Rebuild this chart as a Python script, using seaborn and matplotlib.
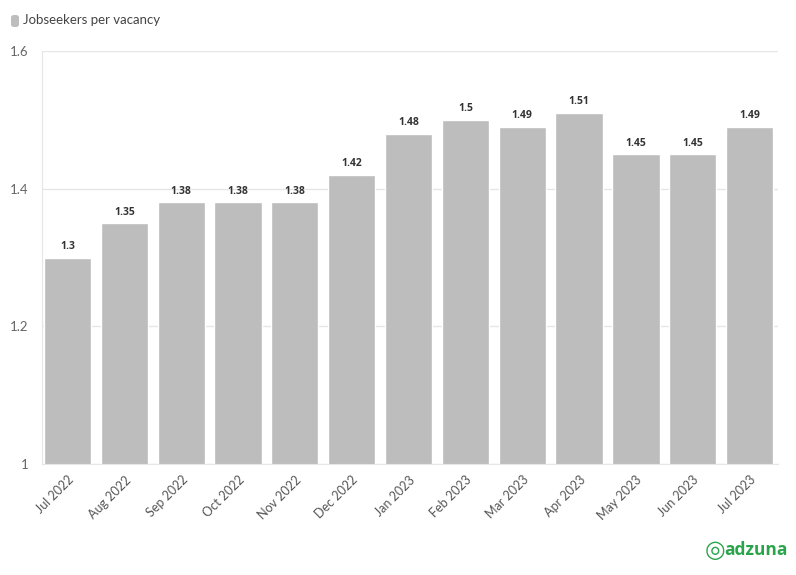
import matplotlib
matplotlib.use('Agg')
import matplotlib.pyplot as plt
import seaborn as sns
import pandas as pd
from matplotlib.patches import FancyBboxPatch

# data
months = ['Jul 2022', 'Aug 2022', 'Sep 2022', 'Oct 2022', 'Nov 2022', 'Dec 2022',
          'Jan 2023', 'Feb 2023', 'Mar 2023', 'Apr 2023', 'May 2023', 'Jun 2023', 'Jul 2023']
ratio = [1.3, 1.35, 1.38, 1.38, 1.38, 1.42, 1.48, 1.5, 1.49, 1.51, 1.45, 1.45, 1.49]
series_name = 'Jobseekers per vacancy'
y_ticks = [1.0, 1.2, 1.4, 1.6]
y_labels = ['1', '1.2', '1.4', '1.6']

df = pd.DataFrame({'month': months, 'ratio': ratio})

sns.set_style('white')
plt.rcParams['font.family'] = ['Lato', 'DejaVu Sans']

fig = plt.figure(figsize=(7.96, 5.75), dpi=100)
ax = fig.add_axes([42 / 796, 0.193, 736 / 796, 0.7183])

bar_col = '#bdbdbd'
sns.barplot(data=df, x='month', y='ratio', color=bar_col, saturation=1,
            width=0.83, ax=ax)

ax.set_ylim(1.0, 1.6)
ax.set_xlim(-0.45, len(months) - 0.5)
ax.set_yticks(y_ticks)
ax.set_yticklabels(y_labels)
ax.set_xlabel('')
ax.set_ylabel('')

for i, v in enumerate(ratio):
    ax.text(i, v + 0.008, f'{v:g}', ha='center', va='bottom',
            fontsize=7.5, fontweight='bold', color='#333333',
            family=['Open Sans', 'DejaVu Sans'])

ax.grid(axis='y', color='#e6e6e6', linewidth=1)
ax.set_axisbelow(True)
for s in ['top', 'right']:
    ax.spines[s].set_visible(False)
ax.spines['left'].set_color('#e6e6e6')
ax.spines['bottom'].set_color('#e6e6e6')
ax.tick_params(axis='y', length=6, color='#e6e6e6', labelsize=9.5, labelcolor='#666666', pad=4)
ax.tick_params(axis='x', length=5, color='#e6e6e6', labelsize=9, labelcolor='#555555', pad=2)
plt.setp(ax.get_xticklabels(), rotation=45, ha='right', rotation_mode='anchor')

# legend at top left
fig.patches.append(FancyBboxPatch((11 / 796, 1 - 27 / 575), 8 / 796, 12 / 575,
                                  boxstyle='round,pad=0,rounding_size=0.004',
                                  transform=fig.transFigure, facecolor=bar_col,
                                  edgecolor='none'))
fig.text(23 / 796, 1 - 20 / 575, series_name, fontsize=9.5, color='#444444', va='center')

# logo
fig.text(715 / 796, 1 - 550 / 575, '◎', fontsize=17, color='#2aa44b', va='center',
         ha='center', family=['DejaVu Sans'], fontweight='bold')
fig.text(724 / 796, 1 - 550 / 575, 'adzuna', fontsize=12.5, color='#2aa44b',
         va='center', fontweight='bold', family=['Open Sans', 'DejaVu Sans'])

fig.savefig('out.png', dpi=100)
